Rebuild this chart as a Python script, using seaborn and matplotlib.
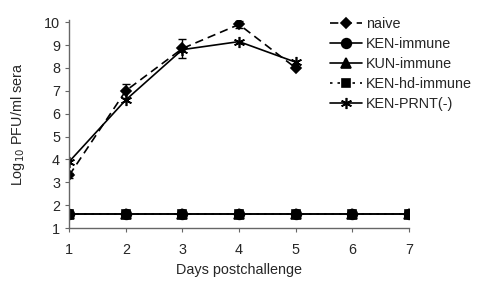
import seaborn as sns
import matplotlib.pyplot as plt
import pandas as pd
import numpy as np

# データ
days = [1, 2, 3, 4, 5, 6, 7]
naive_days = [1, 2, 3, 4, 5]
naive = [3.3, 7.0, 8.85, 9.9, 8.0]
naive_err = [0.1, 0.3, 0.4, 0.15, 0.0]
prnt_days = [1, 2, 3, 4, 5]
prnt = [3.9, 6.6, 8.8, 9.15, 8.25]
ken_immune = [1.6, 1.6, 1.6, 1.6, 1.6, 1.6, 1.6]
kun_immune = [1.6, 1.6, 1.6, 1.6, 1.6, 1.6, 1.6]
ken_hd_immune = [1.6, 1.6, 1.6, 1.6, 1.6, 1.6, 1.6]

sns.set_style("white")
plt.rcParams['font.family'] = ['Liberation Sans', 'DejaVu Sans']

fig = plt.figure(figsize=(4.8, 2.84), dpi=100)
ax = fig.add_axes([0.144, 0.197, 0.708, 0.733])

asterisk = (6, 2, 0)
series = [
    ("naive", naive_days, naive, (0, (5, 3)), "D", 5),
    ("KEN-immune", days, ken_immune, "-", "o", 7),
    ("KUN-immune", days, kun_immune, "-", "^", 7),
    ("KEN-hd-immune", days, ken_hd_immune, (0, (1.5, 3)), "s", 6),
    ("KEN-PRNT(-)", prnt_days, prnt, "-", asterisk, 8),
]

for label, x, y, ls, mk, ms in series:
    df = pd.DataFrame({"day": x, "val": y})
    sns.lineplot(data=df, x="day", y="val", ax=ax, color="black",
                 linestyle=ls, marker=mk, markersize=ms, linewidth=1.2,
                 markeredgecolor="black", markeredgewidth=1.2, label=label)

ax.errorbar(naive_days, naive, yerr=naive_err, fmt="none", ecolor="black",
            elinewidth=1, capsize=3)

ax.set_xlim(1, 7)
ax.set_ylim(1, 10.1)
ax.set_xticks(days)
ax.set_yticks(range(1, 11))
ax.tick_params(axis="both", labelsize=10.4, length=3, direction="out",
               bottom=True, left=True, color="#666666")
ax.tick_params(axis="x", pad=8)
for s in ["top", "right"]:
    ax.spines[s].set_visible(False)
for s in ["left", "bottom"]:
    ax.spines[s].set_color("#666666")
    ax.spines[s].set_linewidth(1)

ax.set_xlabel("Days postchallenge", fontsize=10.4, labelpad=4)
ax.set_ylabel("Log$_{10}$ PFU/ml sera", fontsize=10.4, labelpad=12)

ax.legend(loc="upper left", bbox_to_anchor=(330 / 480, 1 - 17 / 284),
          bbox_transform=fig.transFigure, borderaxespad=0, borderpad=0,
          frameon=False, fontsize=10.4, handlelength=2.2, labelspacing=0.42,
          handletextpad=0.3)

fig.savefig("out.png", dpi=100)
